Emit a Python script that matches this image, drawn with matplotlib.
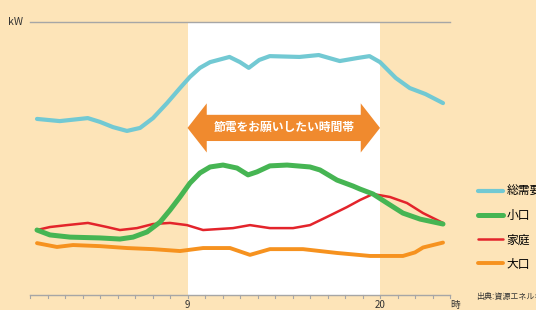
import numpy as np
import matplotlib
matplotlib.use("Agg")
import matplotlib.pyplot as plt
from matplotlib.patches import Polygon

plt.rcParams['font.family'] = ['Noto Sans CJK JP', 'DejaVu Sans']

# --- Data (relative kW, axis = 0, top line = 100) ---
total_h = [0.4, 1.7, 3.3, 4.0, 4.74, 5.54, 6.29, 7.03, 7.83, 8.57, 9.14, 9.71, 10.29, 11.4,
           12.0, 12.5, 13.1, 13.7, 15.4, 16.5, 17.7, 18.7, 19.4, 20.0, 20.9, 21.7, 22.6, 23.6]
total_v = [64.5, 63.7, 64.8, 63.4, 61.5, 60.1, 61.2, 64.8, 70.3, 75.8, 79.9, 83.2, 85.3, 87.2,
           85.3, 83.2, 86.1, 87.5, 87.2, 87.9, 85.7, 86.8, 87.5, 85.3, 79.5, 75.8, 73.6, 70.3]

small_h = [0.4, 1.14, 2.29, 4.0, 5.14, 5.89, 6.69, 7.43, 8.0, 8.57, 9.14, 9.71, 10.29, 11.03,
           11.83, 12.46, 12.97, 13.71, 14.69, 16.0, 16.57, 17.54, 18.46, 18.86, 19.6, 20.4,
           21.31, 22.29, 23.6]
small_v = [23.8, 22.0, 21.2, 20.9, 20.5, 21.2, 23.1, 26.7, 31.1, 35.9, 41.0, 44.7, 46.9, 47.6,
           46.5, 44.0, 45.1, 47.3, 47.6, 46.9, 45.8, 42.1, 39.9, 38.8, 37.0, 33.7,
           30.0, 27.8, 26.0]

home_h = [0.4, 1.14, 2.11, 3.31, 4.4, 5.14, 6.11, 7.03, 8.0, 8.97, 9.89, 10.86, 11.6, 12.57,
          13.71, 15.03, 16.0, 16.97, 18.11, 18.86, 19.6, 20.57, 21.54, 22.46, 23.6]
home_v = [23.8, 24.9, 25.6, 26.4, 24.9, 23.8, 24.5, 26.0, 26.4, 25.6, 23.8, 24.2, 24.5, 25.6,
          24.5, 24.5, 25.6, 28.6, 32.2, 34.8, 37.0, 35.9, 33.7, 30.0, 26.4]

large_h = [0.4, 1.54, 2.46, 4.0, 5.54, 7.03, 8.57, 9.89, 11.43, 12.57, 13.71, 15.6, 17.54,
           19.43, 21.31, 22.0, 22.46, 23.6]
large_v = [19.0, 17.6, 18.3, 17.9, 17.2, 16.8, 16.1, 17.2, 17.2, 14.7, 16.8, 16.8, 15.4,
           14.3, 14.3, 15.6, 17.4, 19.2]

labels = ['総需要', '小口', '家庭', '大口']
peak_start, peak_end = 9, 20
tick_labels = {9: '9', 20: '20', 24.3: '時'}

# --- Colours ---
BG = '#FDE4B8'
C_TOTAL = '#72C9D3'
C_SMALL = '#46B553'
C_HOME = '#E3242B'
C_LARGE = '#F6921F'
C_ARROW = '#F08A2E'
C_AXIS = '#A6A6A6'

# x: 30px -> 0h at 17.5 px/h ; y: 295px -> 0 at 2.73 px/unit
W, H = 536, 310
fig = plt.figure(figsize=(W / 100, H / 100), dpi=100, facecolor=BG)
ax = fig.add_axes([0, 0, 1, 1])
ax.set_facecolor(BG)
ax.set_xlim(-30 / 17.5, (W - 30) / 17.5)
ax.set_ylim((295 - H) / 2.73, 295 / 2.73)
ax.axis('off')

# peak window
ax.fill_between([peak_start, peak_end], 0, 100, color='white', lw=0, zorder=1)

# top kW line and bottom time axis
ax.plot([0, 24], [100, 100], color=C_AXIS, lw=1.0, zorder=2)
ax.plot([0, 24], [0, 0], color=C_AXIS, lw=1.0, zorder=2)
for h in range(25):
    ax.plot([h, h], [0, -1.1], color=C_AXIS, lw=0.8, zorder=2)
ax.text(-1.25, 100, 'kW', fontsize=7.5, color='#333333', ha='left', va='center')
for h, t in tick_labels.items():
    ax.text(h, -4.9, t, fontsize=7, color='#333333', ha='center', va='baseline')

# series
kw = dict(solid_capstyle='round', solid_joinstyle='round')
l_total, = ax.plot(total_h, total_v, color=C_TOTAL, lw=3.0, zorder=5, label=labels[0], **kw)
l_large, = ax.plot(large_h, large_v, color=C_LARGE, lw=2.8, zorder=3, label=labels[3], **kw)
l_home, = ax.plot(home_h, home_v, color=C_HOME, lw=1.8, zorder=4, label=labels[2], **kw)
l_small, = ax.plot(small_h, small_v, color=C_SMALL, lw=3.6, zorder=4.5, label=labels[1], **kw)

# double arrow over the peak window
yc, hs, hh, hl = 61.2, 4.8, 9.0, 1.1
arrow = Polygon([[peak_start, yc], [peak_start + hl, yc + hh], [peak_start + hl, yc + hs],
                 [peak_end - hl, yc + hs], [peak_end - hl, yc + hh], [peak_end, yc],
                 [peak_end - hl, yc - hh], [peak_end - hl, yc - hs], [peak_start + hl, yc - hs],
                 [peak_start + hl, yc - hh]], closed=True, color=C_ARROW, lw=0, zorder=6)
ax.add_patch(arrow)
ax.text((peak_start + peak_end) / 2, yc, '節電をお願いしたい時間帯', color='white',
        fontsize=8.5, fontweight='bold', ha='center', va='center', zorder=7)

# legend
ax.legend(handles=[l_total, l_small, l_home, l_large], loc='upper left',
          bbox_to_anchor=(472 / W, 1 - 179 / H), frameon=False, fontsize=8.5,
          handlelength=2.1, handletextpad=0.3, labelspacing=0.95, borderpad=0)

ax.text((476 - 30) / 17.5, (295 - 296) / 2.73, '出典:資源エネルギー庁', fontsize=5.8,
        color='#333333', ha='left', va='center')

fig.savefig('out.png', dpi=100, facecolor=BG)
